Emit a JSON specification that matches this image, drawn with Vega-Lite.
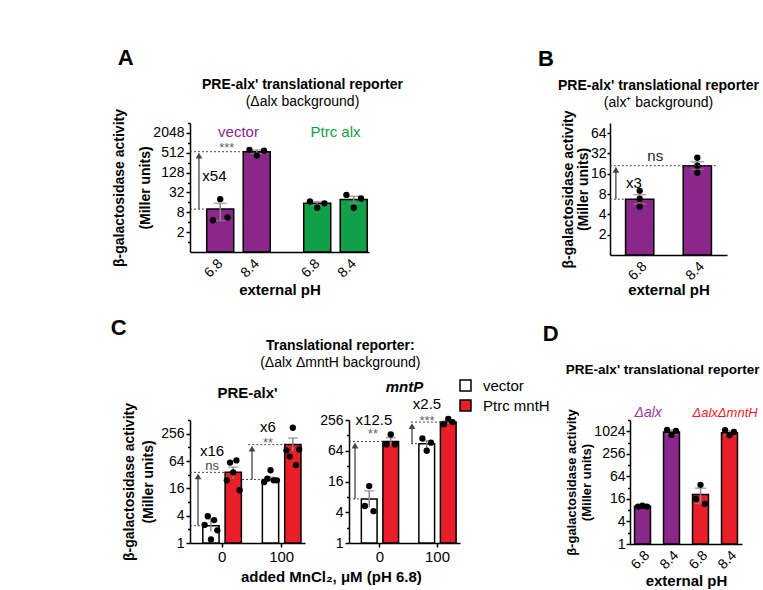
{
"$schema": "https://vega.github.io/schema/vega-lite/v6.json",
"padding": {"left": 110, "top": 46, "right": 0, "bottom": 0},
"config": {
 "font": "Liberation Sans",
 "view": {"stroke": null},
 "axis": {"grid": false, "domainColor": "#000", "domainWidth": 1.5, "tickColor": "#000", "tickWidth": 1.5, "tickSize": 4, "labelColor": "#000", "labelFontSize": 14, "labelFlush": false, "labelPadding": 2, "titleColor": "#000", "titleFontSize": 14, "titleFontWeight": "bold"},
 "title": {"fontSize": 14, "fontWeight": "bold", "color": "#000", "subtitleFontSize": 14, "subtitleColor": "#000", "subtitlePadding": 3},
 "legend": {"padding": 0}
},
"datasets": {
 "A_bars": [
  {"group": "vector", "pH": "6.8", "mean": 10, "lo": 4.5, "hi": 15},
  {"group": "vector", "pH": "8.4", "mean": 551, "lo": 480, "hi": 620},
  {"group": "Ptrc alx", "pH": "6.8", "mean": 15, "lo": 12.5, "hi": 17},
  {"group": "Ptrc alx", "pH": "8.4", "mean": 19.5, "lo": 15, "hi": 24.5}
 ],
 "A_pts": [
  {"group": "vector", "key": "6.8|1", "value": 4.6},
  {"group": "vector", "key": "6.8|2", "value": 20},
  {"group": "vector", "key": "6.8|3", "value": 5.6},
  {"group": "vector", "key": "8.4|1", "value": 630},
  {"group": "vector", "key": "8.4|2", "value": 420},
  {"group": "vector", "key": "8.4|3", "value": 590},
  {"group": "Ptrc alx", "key": "6.8|1", "value": 17},
  {"group": "Ptrc alx", "key": "6.8|2", "value": 11},
  {"group": "Ptrc alx", "key": "6.8|3", "value": 15},
  {"group": "Ptrc alx", "key": "8.4|1", "value": 27},
  {"group": "Ptrc alx", "key": "8.4|2", "value": 11},
  {"group": "Ptrc alx", "key": "8.4|3", "value": 21}
 ],
 "B_bars": [
  {"pH": "6.8", "mean": 6.7, "lo": 5.7, "hi": 7.8},
  {"pH": "8.4", "mean": 21, "lo": 18.5, "hi": 24}
 ],
 "B_pts": [
  {"pH": "6.8", "value": 8.9}, {"pH": "6.8", "value": 6.8}, {"pH": "6.8", "value": 5.2},
  {"pH": "8.4", "value": 27.5}, {"pH": "8.4", "value": 21}, {"pH": "8.4", "value": 16.5}
 ],
 "C1_bars": [
  {"mn": "0", "strain": "vector", "mean": 2.4, "lo": 1.8, "hi": 3.4},
  {"mn": "0", "strain": "Ptrc mntH", "mean": 36, "lo": 26, "hi": 47},
  {"mn": "100", "strain": "vector", "mean": 25, "lo": 23, "hi": 28},
  {"mn": "100", "strain": "Ptrc mntH", "mean": 147, "lo": 105, "hi": 205}
 ],
 "C1_pts": [
  {"mn": "0", "key": "vector|1", "value": 2.5}, {"mn": "0", "key": "vector|2", "value": 3.9}, {"mn": "0", "key": "vector|3", "value": 1.2}, {"mn": "0", "key": "vector|4", "value": 3.2}, {"mn": "0", "key": "vector|5", "value": 1.9},
  {"mn": "0", "key": "Ptrc mntH|1", "value": 24}, {"mn": "0", "key": "Ptrc mntH|2", "value": 59}, {"mn": "0", "key": "Ptrc mntH|3", "value": 36}, {"mn": "0", "key": "Ptrc mntH|4", "value": 66}, {"mn": "0", "key": "Ptrc mntH|5", "value": 14.5},
  {"mn": "100", "key": "vector|1", "value": 22}, {"mn": "100", "key": "vector|2", "value": 26}, {"mn": "100", "key": "vector|3", "value": 40}, {"mn": "100", "key": "vector|4", "value": 24}, {"mn": "100", "key": "vector|5", "value": 24},
  {"mn": "100", "key": "Ptrc mntH|1", "value": 110}, {"mn": "100", "key": "Ptrc mntH|2", "value": 80}, {"mn": "100", "key": "Ptrc mntH|3", "value": 346}, {"mn": "100", "key": "Ptrc mntH|4", "value": 52}, {"mn": "100", "key": "Ptrc mntH|5", "value": 115}
 ],
 "C2_bars": [
  {"mn": "0", "strain": "vector", "mean": 7.3, "lo": 5, "hi": 10.5},
  {"mn": "0", "strain": "Ptrc mntH", "mean": 97, "lo": 82, "hi": 115},
  {"mn": "100", "strain": "vector", "mean": 88, "lo": 70, "hi": 100},
  {"mn": "100", "strain": "Ptrc mntH", "mean": 233, "lo": 215, "hi": 250}
 ],
 "C2_pts": [
  {"mn": "0", "key": "vector|1", "value": 5.3}, {"mn": "0", "key": "vector|2", "value": 13}, {"mn": "0", "key": "vector|3", "value": 4.2},
  {"mn": "0", "key": "Ptrc mntH|1", "value": 85}, {"mn": "0", "key": "Ptrc mntH|2", "value": 133}, {"mn": "0", "key": "Ptrc mntH|3", "value": 85},
  {"mn": "100", "key": "vector|1", "value": 111}, {"mn": "100", "key": "vector|2", "value": 64}, {"mn": "100", "key": "vector|3", "value": 92},
  {"mn": "100", "key": "Ptrc mntH|1", "value": 212}, {"mn": "100", "key": "Ptrc mntH|2", "value": 270}, {"mn": "100", "key": "Ptrc mntH|3", "value": 233}
 ],
 "D_bars": [
  {"cat": "Δalx 6.8", "strain": "Δalx", "mean": 10.2, "lo": 9.8, "hi": 10.7},
  {"cat": "Δalx 8.4", "strain": "Δalx", "mean": 980, "lo": 850, "hi": 1100},
  {"cat": "ΔalxΔmntH 6.8", "strain": "ΔalxΔmntH", "mean": 21, "lo": 12, "hi": 31},
  {"cat": "ΔalxΔmntH 8.4", "strain": "ΔalxΔmntH", "mean": 930, "lo": 830, "hi": 1050}
 ],
 "D_pts": [
  {"cat": "Δalx 6.8", "rep": "1", "value": 10}, {"cat": "Δalx 6.8", "rep": "2", "value": 10.5}, {"cat": "Δalx 6.8", "rep": "3", "value": 10},
  {"cat": "Δalx 8.4", "rep": "1", "value": 1120}, {"cat": "Δalx 8.4", "rep": "2", "value": 820}, {"cat": "Δalx 8.4", "rep": "3", "value": 1050},
  {"cat": "ΔalxΔmntH 6.8", "rep": "1", "value": 16}, {"cat": "ΔalxΔmntH 6.8", "rep": "2", "value": 38}, {"cat": "ΔalxΔmntH 6.8", "rep": "3", "value": 11.8},
  {"cat": "ΔalxΔmntH 8.4", "rep": "1", "value": 1100}, {"cat": "ΔalxΔmntH 8.4", "rep": "2", "value": 800}, {"cat": "ΔalxΔmntH 8.4", "rep": "3", "value": 980}
 ]
},
"spacing": 19,
"resolve": {"scale": {"fill": "independent"}, "legend": {"fill": "independent"}},
"vconcat": [
 {"spacing": 135, "resolve": {"scale": {"fill": "independent"}, "legend": {"fill": "independent"}}, "hconcat": [
  {"title": {"text": "A", "anchor": "start", "fontSize": 22, "dx": 5, "offset": 8},
   "resolve": {"scale": {"fill": "independent"}, "legend": {"fill": "independent"}},
   "vconcat": [{
    "width": 179, "height": 129,
    "title": {"text": "PRE-alx' translational reporter", "subtitle": "(Δalx background)", "dx": 23, "offset": 0},
    "resolve": {"scale": {"xOffset": "independent"}},
    "layer": [
     {"data": {"name": "A_bars"}, "mark": {"type": "bar", "stroke": "black", "strokeWidth": 1.5},
      "encoding": {
       "x": {"field": "group", "type": "nominal", "scale": {"domain": ["vector", "Ptrc alx"], "paddingInner": 0.33, "paddingOuter": 0.0876, "align": 0.94}, "axis": {"labels": false, "ticks": false, "title": "external pH", "titleFontSize": 15, "titlePadding": 30}},
       "xOffset": {"field": "pH", "type": "nominal", "scale": {"type": "band", "domain": ["6.8", "8.4"], "paddingInner": 0.26, "paddingOuter": 0.02}},
       "y": {"field": "mean", "type": "quantitative", "scale": {"type": "log", "domain": [0.5, 4096], "nice": false},
             "axis": {"values": [1, 2, 4, 8, 16, 32, 64, 128, 256, 512, 1024, 2048, 4096], "format": "d",
                      "labelExpr": "indexof([2, 8, 32, 128, 512, 2048], datum.value) >= 0 ? datum.label : ''",
                      "tickSize": {"condition": {"test": "indexof([2, 8, 32, 128, 512, 2048], datum.value) >= 0", "value": 4}, "value": 2.5},
                      "title": ["β-galactosidase activity", "(Miller units)"], "titlePadding": 0, "titleLineHeight": 26}},
       "y2": {"datum": 0.5},
       "fill": {"field": "group", "type": "nominal", "scale": {"domain": ["vector", "Ptrc alx"], "range": ["#8B268B", "#10A048"]}, "legend": null}
      }},
     {"data": {"name": "A_bars"}, "mark": {"type": "rule", "color": "#888", "strokeWidth": 1.5},
      "encoding": {"x": {"field": "group", "type": "nominal"}, "xOffset": {"field": "pH", "type": "nominal", "scale": {"type": "band", "domain": ["6.8", "8.4"], "paddingInner": 0.26, "paddingOuter": 0.02}}, "y": {"field": "lo", "type": "quantitative"}, "y2": {"field": "hi"}}},
     {"data": {"name": "A_bars"}, "mark": {"type": "tick", "color": "#888", "thickness": 1.5, "size": 13},
      "encoding": {"x": {"field": "group", "type": "nominal"}, "xOffset": {"field": "pH", "type": "nominal", "scale": {"type": "band", "domain": ["6.8", "8.4"], "paddingInner": 0.26, "paddingOuter": 0.02}}, "y": {"field": "hi", "type": "quantitative"}}},
     {"data": {"name": "A_bars"}, "mark": {"type": "tick", "color": "#888", "thickness": 1.5, "size": 13},
      "encoding": {"x": {"field": "group", "type": "nominal"}, "xOffset": {"field": "pH", "type": "nominal", "scale": {"type": "band", "domain": ["6.8", "8.4"], "paddingInner": 0.26, "paddingOuter": 0.02}}, "y": {"field": "lo", "type": "quantitative"}}},
     {"data": {"name": "A_pts"}, "mark": {"type": "circle", "color": "black", "size": 40, "opacity": 1},
      "encoding": {"x": {"field": "group", "type": "nominal"}, "xOffset": {"field": "key", "type": "nominal", "scale": {"type": "band", "domain": ["6.8|1", "6.8|2", "6.8|3", "gap1", "gap2", "8.4|1", "8.4|2", "8.4|3"], "paddingInner": 0, "paddingOuter": 0.45}}, "y": {"field": "value", "type": "quantitative"}}},
     {"data": {"name": "A_bars"}, "mark": {"type": "text", "angle": 315, "align": "right", "baseline": "middle", "fontSize": 14, "dx": -6.4, "dy": 7.1},
      "encoding": {"x": {"field": "group", "type": "nominal"}, "xOffset": {"field": "pH", "type": "nominal", "scale": {"type": "band", "domain": ["6.8", "8.4"], "paddingInner": 0.26, "paddingOuter": 0.02}}, "y": {"datum": 0.5}, "text": {"field": "pH"}}},
     {"data": {"values": [{}]}, "mark": {"type": "rule", "strokeDash": [2, 2], "color": "#444", "strokeWidth": 1},
      "encoding": {"x": {"datum": "vector", "bandPosition": -0.246}, "x2": {"datum": "vector", "bandPosition": 0.011}, "y": {"datum": 10}}},
     {"data": {"values": [{}]}, "mark": {"type": "rule", "strokeDash": [2, 2], "color": "#444", "strokeWidth": 1},
      "encoding": {"x": {"datum": "vector", "bandPosition": -0.246}, "x2": {"datum": "vector", "bandPosition": 0.573}, "y": {"datum": 551}}},
     {"data": {"values": [{}]}, "mark": {"type": "rule", "color": "#444", "strokeWidth": 1.3},
      "encoding": {"x": {"datum": "vector", "bandPosition": -0.108}, "y": {"datum": 10}, "y2": {"datum": 418}}},
     {"data": {"values": [{}]}, "mark": {"type": "point", "shape": "triangle-up", "filled": true, "color": "#444", "size": 45, "opacity": 1},
      "encoding": {"x": {"datum": "vector", "bandPosition": -0.108}, "y": {"datum": 418}}},
     {"data": {"values": [{}]}, "mark": {"type": "text", "fontSize": 15, "color": "#000"},
      "encoding": {"x": {"datum": "vector", "bandPosition": 0.13}, "y": {"datum": 104}, "text": {"value": "x54"}}},
     {"data": {"values": [{}]}, "mark": {"type": "text", "fontSize": 13, "color": "#666"},
      "encoding": {"x": {"datum": "vector", "bandPosition": 0.32}, "y": {"datum": 700}, "text": {"value": "***"}}},
     {"data": {"values": [{}]}, "mark": {"type": "text", "fontSize": 15, "color": "#8B268B"},
      "encoding": {"x": {"datum": "vector"}, "y": {"datum": 2200}, "text": {"value": "vector"}}},
     {"data": {"values": [{}]}, "mark": {"type": "text", "fontSize": 15, "color": "#10A048"},
      "encoding": {"x": {"datum": "Ptrc alx"}, "y": {"datum": 2200}, "text": {"value": "Ptrc alx"}}}
    ]
   }]
  },
  {"title": {"text": "B", "anchor": "start", "fontSize": 22, "dx": -20, "offset": 8},
   "resolve": {"scale": {"fill": "independent"}, "legend": {"fill": "independent"}},
   "vconcat": [{
    "width": 117, "height": 132,
    "title": {"text": "PRE-alx' translational reporter", "subtitle": "(alx⁺ background)", "dx": -10, "offset": 0},
    "layer": [
     {"data": {"name": "B_bars"}, "mark": {"type": "bar", "stroke": "black", "strokeWidth": 1.5, "fill": "#8B268B"},
      "encoding": {
       "x": {"field": "pH", "type": "nominal", "scale": {"domain": ["6.8", "8.4"], "paddingInner": 0.51, "paddingOuter": 0.27}, "axis": {"labelAngle": -45, "ticks": false, "title": "external pH", "titleFontSize": 15, "labelPadding": 4, "titlePadding": 0}},
       "y": {"field": "mean", "type": "quantitative", "scale": {"type": "log", "domain": [1, 90], "nice": false}, "axis": {"values": [2, 4, 8, 16, 32, 64], "format": "d", "title": ["β-galactosidase activity", "(Miller units)"], "titlePadding": 0, "titleLineHeight": 15, "labelPadding": 1, "tickSize": 3}},
       "y2": {"datum": 1}
      }},
     {"data": {"name": "B_bars"}, "mark": {"type": "rule", "color": "#888", "strokeWidth": 1.5},
      "encoding": {"x": {"field": "pH", "type": "nominal"}, "y": {"field": "lo", "type": "quantitative"}, "y2": {"field": "hi"}}},
     {"data": {"name": "B_bars"}, "mark": {"type": "tick", "color": "#888", "thickness": 1.5, "size": 13},
      "encoding": {"x": {"field": "pH", "type": "nominal"}, "y": {"field": "hi", "type": "quantitative"}}},
     {"data": {"name": "B_bars"}, "mark": {"type": "tick", "color": "#888", "thickness": 1.5, "size": 13},
      "encoding": {"x": {"field": "pH", "type": "nominal"}, "y": {"field": "lo", "type": "quantitative"}}},
     {"data": {"name": "B_pts"}, "mark": {"type": "circle", "color": "black", "size": 40, "opacity": 1},
      "encoding": {"x": {"field": "pH", "type": "nominal"}, "y": {"field": "value", "type": "quantitative"}}},
     {"data": {"values": [{}]}, "mark": {"type": "rule", "strokeDash": [2, 2], "color": "#444", "strokeWidth": 1},
      "encoding": {"x": {"datum": "6.8", "bandPosition": -0.557}, "x2": {"datum": "6.8", "bandPosition": 0}, "y": {"datum": 6.7}}},
     {"data": {"values": [{}]}, "mark": {"type": "rule", "strokeDash": [2, 2], "color": "#444", "strokeWidth": 1},
      "encoding": {"x": {"datum": "6.8", "bandPosition": -0.557}, "x2": {"datum": "8.4", "bandPosition": 1.2}, "y": {"datum": 21}}},
     {"data": {"values": [{}]}, "mark": {"type": "rule", "color": "#444", "strokeWidth": 1.3},
      "encoding": {"x": {"datum": "6.8", "bandPosition": -0.343}, "y": {"datum": 6.7}, "y2": {"datum": 18.3}}},
     {"data": {"values": [{}]}, "mark": {"type": "point", "shape": "triangle-up", "filled": true, "color": "#444", "size": 45, "opacity": 1},
      "encoding": {"x": {"datum": "6.8", "bandPosition": -0.343}, "y": {"datum": 18.3}}},
     {"data": {"values": [{}]}, "mark": {"type": "text", "fontSize": 15, "color": "#000"},
      "encoding": {"x": {"datum": "6.8", "bandPosition": 0.3}, "y": {"datum": 11.7}, "text": {"value": "x3"}}},
     {"data": {"values": [{}]}, "mark": {"type": "text", "fontSize": 15, "color": "#222"},
      "encoding": {"x": {"datum": "6.8", "bandPosition": 1.05}, "y": {"datum": 29}, "text": {"value": "ns"}}}
    ]
   }]
  }
 ]},
 {"spacing": -8, "resolve": {"scale": {"fill": "independent"}, "legend": {"fill": "independent"}}, "hconcat": [
  {"title": {"text": "C", "anchor": "start", "fontSize": 22, "dx": -12, "offset": -1},
   "resolve": {"scale": {"fill": "independent"}, "legend": {"fill": "independent"}},
   "vconcat": [{
    "title": {"text": "Translational reporter:", "subtitle": "(Δalx ΔmntH background)", "anchor": "middle", "dx": 4, "offset": 8},
    "resolve": {"scale": {"fill": "independent"}, "legend": {"fill": "independent"}},
    "vconcat": [{
     "title": {"text": "added MnCl₂, μM (pH 6.8)", "orient": "bottom", "anchor": "middle", "fontSize": 15, "dx": -5, "offset": 6},
     "spacing": 14,
     "resolve": {"scale": {"fill": "independent"}, "legend": {"fill": "independent"}},
     "hconcat": [
      {"width": 115, "height": 123,
       "title": {"text": "PRE-alx'", "fontSize": 15, "offset": 1.5},
       "resolve": {"scale": {"xOffset": "independent"}},
       "layer": [
        {"data": {"name": "C1_bars"}, "mark": {"type": "bar", "stroke": "black", "strokeWidth": 1.5},
         "encoding": {
          "x": {"field": "mn", "type": "nominal", "scale": {"domain": ["0", "100"], "paddingInner": 0.3, "paddingOuter": 0.115, "align": 0.82}, "axis": {"labelAngle": 0, "title": null, "labelFontSize": 15}},
          "xOffset": {"field": "strain", "type": "nominal", "scale": {"type": "band", "domain": ["vector", "Ptrc mntH"], "paddingInner": 0.27, "paddingOuter": 0.07}},
          "y": {"field": "mean", "type": "quantitative", "scale": {"type": "log", "domain": [1, 512], "nice": false},
                "axis": {"values": [1, 2, 4, 8, 16, 32, 64, 128, 256, 512], "format": "d",
                         "labelExpr": "indexof([1, 4, 16, 64, 256], datum.value) >= 0 ? datum.label : ''",
                         "tickSize": {"condition": {"test": "indexof([1, 4, 16, 64, 256], datum.value) >= 0", "value": 4}, "value": 2.5},
                         "title": ["β-galactosidase activity", "(Miller units)"], "titlePadding": 5, "titleLineHeight": 19}},
          "y2": {"datum": 1},
          "fill": {"field": "strain", "type": "nominal", "scale": {"domain": ["vector", "Ptrc mntH"], "range": ["#ffffff", "#E81E28"]}, "legend": null}
         }},
        {"data": {"name": "C1_bars"}, "mark": {"type": "rule", "color": "#888", "strokeWidth": 1.5},
         "encoding": {"x": {"field": "mn", "type": "nominal"}, "xOffset": {"field": "strain", "type": "nominal", "scale": {"type": "band", "domain": ["vector", "Ptrc mntH"], "paddingInner": 0.27, "paddingOuter": 0.07}}, "y": {"field": "lo", "type": "quantitative"}, "y2": {"field": "hi"}}},
        {"data": {"name": "C1_bars"}, "mark": {"type": "tick", "color": "#888", "thickness": 1.5, "size": 10},
         "encoding": {"x": {"field": "mn", "type": "nominal"}, "xOffset": {"field": "strain", "type": "nominal", "scale": {"type": "band", "domain": ["vector", "Ptrc mntH"], "paddingInner": 0.27, "paddingOuter": 0.07}}, "y": {"field": "hi", "type": "quantitative"}}},
        {"data": {"name": "C1_pts"}, "mark": {"type": "circle", "color": "black", "size": 40, "opacity": 1},
         "encoding": {"x": {"field": "mn", "type": "nominal"}, "xOffset": {"field": "key", "type": "nominal", "scale": {"type": "band", "domain": ["vector|1", "vector|2", "vector|3", "vector|4", "vector|5", "gap1", "gap2", "Ptrc mntH|1", "Ptrc mntH|2", "Ptrc mntH|3", "Ptrc mntH|4", "Ptrc mntH|5"], "paddingInner": 0, "paddingOuter": 0.55}}, "y": {"field": "value", "type": "quantitative"}}},
        {"data": {"values": [{}]}, "mark": {"type": "rule", "strokeDash": [2, 2], "color": "#444", "strokeWidth": 1},
         "encoding": {"x": {"datum": "0", "bandPosition": -0.269}, "x2": {"datum": "0", "bandPosition": 0.037}, "y": {"datum": 2.4}}},
        {"data": {"values": [{}]}, "mark": {"type": "rule", "strokeDash": [2, 2], "color": "#444", "strokeWidth": 1},
         "encoding": {"x": {"datum": "0", "bandPosition": -0.269}, "x2": {"datum": "0", "bandPosition": 0.572}, "y": {"datum": 36}}},
        {"data": {"values": [{}]}, "mark": {"type": "rule", "color": "#444", "strokeWidth": 1.3},
         "encoding": {"x": {"datum": "0", "bandPosition": -0.077}, "y": {"datum": 2.4}, "y2": {"datum": 29.4}}},
        {"data": {"values": [{}]}, "mark": {"type": "point", "shape": "triangle-up", "filled": true, "color": "#444", "size": 45, "opacity": 1},
         "encoding": {"x": {"datum": "0", "bandPosition": -0.077}, "y": {"datum": 29.4}}},
        {"data": {"values": [{}]}, "mark": {"type": "text", "fontSize": 15, "color": "#000"},
         "encoding": {"x": {"datum": "0", "bandPosition": 0.26}, "y": {"datum": 105}, "text": {"value": "x16"}}},
        {"data": {"values": [{}]}, "mark": {"type": "text", "fontSize": 13, "color": "#444"},
         "encoding": {"x": {"datum": "0", "bandPosition": 0.26}, "y": {"datum": 50}, "text": {"value": "ns"}}},
        {"data": {"values": [{}]}, "mark": {"type": "rule", "strokeDash": [2, 2], "color": "#444", "strokeWidth": 1},
         "encoding": {"x": {"datum": "100", "bandPosition": -0.45}, "x2": {"datum": "100", "bandPosition": 0.037}, "y": {"datum": 25}}},
        {"data": {"values": [{}]}, "mark": {"type": "rule", "strokeDash": [2, 2], "color": "#444", "strokeWidth": 1},
         "encoding": {"x": {"datum": "100", "bandPosition": -0.3}, "x2": {"datum": "100", "bandPosition": 0.572}, "y": {"datum": 147}}},
        {"data": {"values": [{}]}, "mark": {"type": "rule", "color": "#444", "strokeWidth": 1.3},
         "encoding": {"x": {"datum": "100", "bandPosition": -0.211}, "y": {"datum": 25}, "y2": {"datum": 120}}},
        {"data": {"values": [{}]}, "mark": {"type": "point", "shape": "triangle-up", "filled": true, "color": "#444", "size": 45, "opacity": 1},
         "encoding": {"x": {"datum": "100", "bandPosition": -0.211}, "y": {"datum": 120}}},
        {"data": {"values": [{}]}, "mark": {"type": "text", "fontSize": 15, "color": "#000"},
         "encoding": {"x": {"datum": "100", "bandPosition": 0.173}, "y": {"datum": 360}, "text": {"value": "x6"}}},
        {"data": {"values": [{}]}, "mark": {"type": "text", "fontSize": 13, "color": "#666"},
         "encoding": {"x": {"datum": "100", "bandPosition": 0.173}, "y": {"datum": 160}, "text": {"value": "**"}}}
       ]},
      {"width": 111, "height": 123,
       "title": {"text": "mntP", "fontSize": 15, "fontStyle": "italic", "offset": -17},
       "resolve": {"scale": {"xOffset": "independent"}},
       "layer": [
        {"data": {"name": "C2_bars"}, "mark": {"type": "bar", "stroke": "black", "strokeWidth": 1.5},
         "encoding": {
          "x": {"field": "mn", "type": "nominal", "scale": {"domain": ["0", "100"], "paddingInner": 0.3, "paddingOuter": 0.115, "align": 0.82}, "axis": {"labelAngle": 0, "title": null, "labelFontSize": 15}},
          "xOffset": {"field": "strain", "type": "nominal", "scale": {"type": "band", "domain": ["vector", "Ptrc mntH"], "paddingInner": 0.27, "paddingOuter": 0.07}},
          "y": {"field": "mean", "type": "quantitative", "scale": {"type": "log", "domain": [1, 256], "nice": false},
                "axis": {"values": [1, 2, 4, 8, 16, 32, 64, 128, 256], "format": "d",
                         "labelExpr": "indexof([1, 4, 16, 64, 256], datum.value) >= 0 ? datum.label : ''",
                         "tickSize": {"condition": {"test": "indexof([1, 4, 16, 64, 256], datum.value) >= 0", "value": 4}, "value": 2.5},
                         "title": null}},
          "y2": {"datum": 1},
          "fill": {"field": "strain", "type": "nominal", "scale": {"domain": ["vector", "Ptrc mntH"], "range": ["#ffffff", "#E81E28"]},
                   "legend": {"orient": "none", "legendX": 109, "legendY": -42, "title": null, "symbolType": "square", "symbolSize": 120, "symbolStrokeColor": "#000", "symbolStrokeWidth": 1.5, "labelFontSize": 15, "labelColor": "#000", "rowPadding": 3, "labelOffset": 10}}
         }},
        {"data": {"name": "C2_bars"}, "mark": {"type": "rule", "color": "#888", "strokeWidth": 1.5},
         "encoding": {"x": {"field": "mn", "type": "nominal"}, "xOffset": {"field": "strain", "type": "nominal", "scale": {"type": "band", "domain": ["vector", "Ptrc mntH"], "paddingInner": 0.27, "paddingOuter": 0.07}}, "y": {"field": "lo", "type": "quantitative"}, "y2": {"field": "hi"}}},
        {"data": {"name": "C2_bars"}, "mark": {"type": "tick", "color": "#888", "thickness": 1.5, "size": 10},
         "encoding": {"x": {"field": "mn", "type": "nominal"}, "xOffset": {"field": "strain", "type": "nominal", "scale": {"type": "band", "domain": ["vector", "Ptrc mntH"], "paddingInner": 0.27, "paddingOuter": 0.07}}, "y": {"field": "hi", "type": "quantitative"}}},
        {"data": {"name": "C2_pts"}, "mark": {"type": "circle", "color": "black", "size": 40, "opacity": 1},
         "encoding": {"x": {"field": "mn", "type": "nominal"}, "xOffset": {"field": "key", "type": "nominal", "scale": {"type": "band", "domain": ["vector|1", "vector|2", "vector|3", "gap1", "gap2", "Ptrc mntH|1", "Ptrc mntH|2", "Ptrc mntH|3"], "paddingInner": 0, "paddingOuter": 0.674}}, "y": {"field": "value", "type": "quantitative"}}},
        {"data": {"values": [{}]}, "mark": {"type": "rule", "strokeDash": [2, 2], "color": "#444", "strokeWidth": 1},
         "encoding": {"x": {"datum": "0", "bandPosition": -0.27}, "x2": {"datum": "0", "bandPosition": 0.037}, "y": {"datum": 7.3}}},
        {"data": {"values": [{}]}, "mark": {"type": "rule", "strokeDash": [2, 2], "color": "#444", "strokeWidth": 1},
         "encoding": {"x": {"datum": "0", "bandPosition": -0.27}, "x2": {"datum": "0", "bandPosition": 0.572}, "y": {"datum": 97}}},
        {"data": {"values": [{}]}, "mark": {"type": "rule", "color": "#444", "strokeWidth": 1.3},
         "encoding": {"x": {"datum": "0", "bandPosition": -0.12}, "y": {"datum": 7.3}, "y2": {"datum": 81}}},
        {"data": {"values": [{}]}, "mark": {"type": "point", "shape": "triangle-up", "filled": true, "color": "#444", "size": 45, "opacity": 1},
         "encoding": {"x": {"datum": "0", "bandPosition": -0.12}, "y": {"datum": 81}}},
        {"data": {"values": [{}]}, "mark": {"type": "text", "fontSize": 15, "color": "#000"},
         "encoding": {"x": {"datum": "0", "bandPosition": 0.35}, "y": {"datum": 260}, "text": {"value": "x12.5"}}},
        {"data": {"values": [{}]}, "mark": {"type": "text", "fontSize": 13, "color": "#666"},
         "encoding": {"x": {"datum": "0", "bandPosition": 0.325}, "y": {"datum": 134}, "text": {"value": "**"}}},
        {"data": {"values": [{}]}, "mark": {"type": "rule", "strokeDash": [2, 2], "color": "#444", "strokeWidth": 1},
         "encoding": {"x": {"datum": "100", "bandPosition": -0.158}, "x2": {"datum": "100", "bandPosition": 0.037}, "y": {"datum": 88}}},
        {"data": {"values": [{}]}, "mark": {"type": "rule", "strokeDash": [2, 2], "color": "#444", "strokeWidth": 1},
         "encoding": {"x": {"datum": "100", "bandPosition": -0.158}, "x2": {"datum": "100", "bandPosition": 0.8}, "y": {"datum": 233}}},
        {"data": {"values": [{}]}, "mark": {"type": "rule", "color": "#444", "strokeWidth": 1.3},
         "encoding": {"x": {"datum": "100", "bandPosition": -0.133}, "y": {"datum": 88}, "y2": {"datum": 195}}},
        {"data": {"values": [{}]}, "mark": {"type": "point", "shape": "triangle-up", "filled": true, "color": "#444", "size": 45, "opacity": 1},
         "encoding": {"x": {"datum": "100", "bandPosition": -0.133}, "y": {"datum": 195}}},
        {"data": {"values": [{}]}, "mark": {"type": "text", "fontSize": 15, "color": "#000"},
         "encoding": {"x": {"datum": "100", "bandPosition": 0.24}, "y": {"datum": 530}, "text": {"value": "x2.5"}}},
        {"data": {"values": [{}]}, "mark": {"type": "text", "fontSize": 13, "color": "#666"},
         "encoding": {"x": {"datum": "100", "bandPosition": 0.24}, "y": {"datum": 250}, "text": {"value": "***"}}}
       ]}
     ]
    }]
   }]
  },
  {"title": {"text": "D", "anchor": "start", "fontSize": 22, "dx": -23, "offset": 17},
   "resolve": {"scale": {"fill": "independent"}, "legend": {"fill": "independent"}},
   "vconcat": [{
    "width": 112, "height": 124,
    "title": {"text": "PRE-alx' translational reporter", "anchor": "start", "frame": "bounds", "fontSize": 13.5, "offset": 30},
    "layer": [
     {"data": {"name": "D_bars"}, "mark": {"type": "bar", "stroke": "black", "strokeWidth": 1.5},
      "encoding": {
       "x": {"field": "cat", "type": "nominal", "scale": {"domain": ["Δalx 6.8", "Δalx 8.4", "ΔalxΔmntH 6.8", "ΔalxΔmntH 8.4"], "paddingInner": 0.45, "paddingOuter": 0.156}, "axis": {"labelAngle": -45, "ticks": false, "labelExpr": "split(datum.label, ' ')[1]", "title": "external pH", "titleFontSize": 15, "labelPadding": 4, "titlePadding": 2}},
       "y": {"field": "mean", "type": "quantitative", "scale": {"type": "log", "domain": [1, 2048], "nice": false},
             "axis": {"values": [1, 2, 4, 8, 16, 32, 64, 128, 256, 512, 1024, 2048], "format": "d",
                      "labelExpr": "indexof([1, 4, 16, 64, 256, 1024], datum.value) >= 0 ? datum.label : ''",
                      "tickSize": {"condition": {"test": "indexof([1, 4, 16, 64, 256, 1024], datum.value) >= 0", "value": 4}, "value": 2.5},
                      "labelPadding": 1,
                      "title": ["β-galactosidase activity", "(Miller units)"], "titleFontSize": 13, "titlePadding": 0, "titleLineHeight": 15}},
       "y2": {"datum": 1},
       "fill": {"field": "strain", "type": "nominal", "scale": {"domain": ["Δalx", "ΔalxΔmntH"], "range": ["#8B268B", "#E81E28"]}, "legend": null}
      }},
     {"data": {"name": "D_bars"}, "mark": {"type": "rule", "color": "#888", "strokeWidth": 1.5},
      "encoding": {"x": {"field": "cat", "type": "nominal"}, "y": {"field": "lo", "type": "quantitative"}, "y2": {"field": "hi"}}},
     {"data": {"name": "D_bars"}, "mark": {"type": "tick", "color": "#888", "thickness": 1.5, "size": 11},
      "encoding": {"x": {"field": "cat", "type": "nominal"}, "y": {"field": "hi", "type": "quantitative"}}},
     {"data": {"name": "D_bars"}, "mark": {"type": "tick", "color": "#888", "thickness": 1.5, "size": 11},
      "encoding": {"x": {"field": "cat", "type": "nominal"}, "y": {"field": "lo", "type": "quantitative"}}},
     {"data": {"name": "D_pts"}, "mark": {"type": "circle", "color": "black", "size": 40, "opacity": 1},
      "encoding": {"x": {"field": "cat", "type": "nominal"}, "xOffset": {"field": "rep", "type": "nominal", "scale": {"type": "band", "domain": ["1", "2", "3"], "paddingInner": 0, "paddingOuter": 0.3}}, "y": {"field": "value", "type": "quantitative"}}},
     {"data": {"values": [{}]}, "mark": {"type": "text", "fontSize": 14, "fontStyle": "italic", "color": "#9B3AA0", "align": "left", "baseline": "bottom"},
      "encoding": {"x": {"datum": "Δalx 6.8", "bandPosition": 0}, "y": {"datum": 2048}, "text": {"value": "Δalx"}}},
     {"data": {"values": [{}]}, "mark": {"type": "text", "fontSize": 13, "fontStyle": "italic", "color": "#E81E28", "align": "left", "baseline": "bottom"},
      "encoding": {"x": {"datum": "ΔalxΔmntH 6.8", "bandPosition": 0}, "y": {"datum": 2048}, "text": {"value": "ΔalxΔmntH"}}}
    ]
   }]
  }
 ]}
]
}
